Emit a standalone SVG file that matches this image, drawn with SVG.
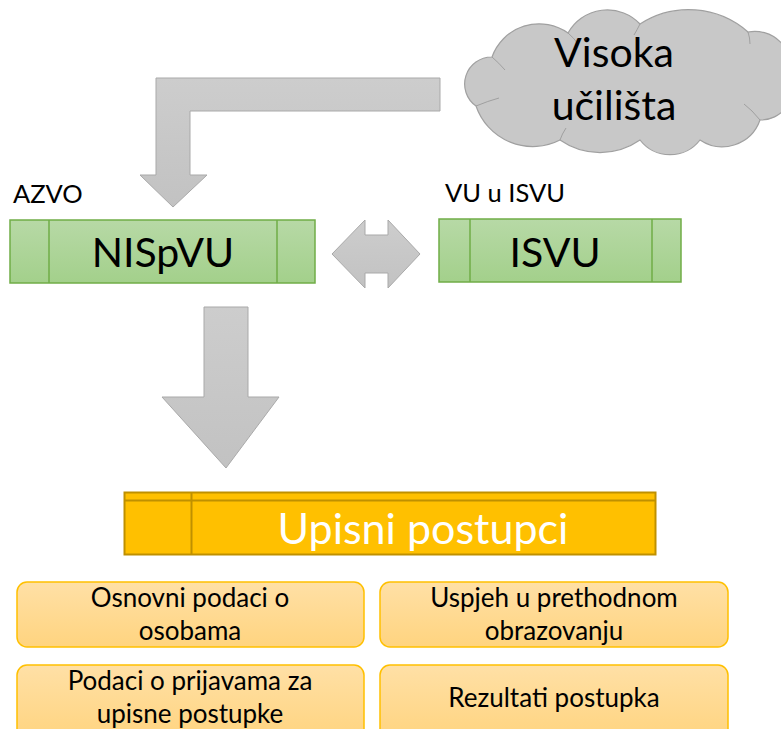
<svg xmlns="http://www.w3.org/2000/svg" width="781" height="729" viewBox="0 0 781 729">
<defs>
<linearGradient id="gGray" x1="0" y1="0" x2="0" y2="1"><stop offset="0" stop-color="#cdcdcd"/><stop offset="1" stop-color="#c2c2c2"/></linearGradient>
<linearGradient id="gGreen" x1="0" y1="0" x2="0" y2="1"><stop offset="0" stop-color="#b7d9a6"/><stop offset="1" stop-color="#a3d08b"/></linearGradient>
<linearGradient id="gOrange" x1="0" y1="0" x2="0" y2="1"><stop offset="0" stop-color="#ffe0a6"/><stop offset="1" stop-color="#ffd47f"/></linearGradient>
</defs>
<style>
.arrow{fill:url(#gGray);stroke:#a9a9a9;stroke-width:1}
.green{fill:url(#gGreen);stroke:#70ad47;stroke-width:1.5}
.gline{stroke:#70ad47;stroke-width:1.5;fill:none}
.item{fill:url(#gOrange);stroke:#ffc000;stroke-width:1.5}
.t{font-family:Lato,"Open Sans","Liberation Sans",sans-serif;fill:#000}
.big{font-size:41px;text-anchor:middle}
.lbl{font-size:25.5px}
.sm{font-size:26px;text-anchor:middle}
</style>
<rect width="781" height="729" fill="#fff"/>
<g id="connectors">
<path class="arrow" d="M440,78 L156,78 L156,175 L140,175 L173,207 L207,175 L190,175 L190,111 L440,111 Z"/>
<path class="arrow" d="M332,254 L365,220 L365,235 L388,235 L388,220 L420,254 L388,288 L388,273 L365,273 L365,288 Z"/>
<path class="arrow" d="M204,307 L248,307 L248,397 L279,397 L226,468 L162,397 L204,397 Z"/>
</g>
<g id="cloud">
<path d="M476,106 A27,27 0 0 1 492,57 A50,50 0 0 1 568,33 A45,45 0 0 1 640,24 A90,90 0 0 1 748,32 A36,36 0 0 1 790,75 A32,32 0 0 1 760,120 A40,40 0 0 1 700,140 A38,38 0 0 1 640,140 A70,70 0 0 1 560,140 A60,60 0 0 1 476,106 Z" fill="#c8c8c8" stroke="#a0a0a0" stroke-width="1.2"/>
<path d="M492,57 Q499,63 505,70 M476,106 Q488,101 499,98 M568,33 Q574,38 578,44 M640,24 Q637,30 634,35 M748,32 Q750,38 750,44 M760,120 Q752,110 744,104 M560,140 Q562,134 566,128" fill="none" stroke="#a0a0a0" stroke-width="1"/>
<text class="t big" x="614" y="67">Visoka</text>
<text class="t big" x="614" y="120">učilišta</text>
</g>
<g id="nispvu">
<text class="t lbl" x="13" y="203">AZVO</text>
<rect class="green" x="10" y="220" width="305" height="63"/>
<path class="gline" d="M49,220 V283 M277,220 V283"/>
<text class="t big" x="163" y="267">NISpVU</text>
</g>
<g id="isvu">
<text class="t lbl" x="445" y="202">VU u ISVU</text>
<rect class="green" x="439" y="219" width="242" height="63"/>
<path class="gline" d="M470,219 V282 M652,219 V282"/>
<text class="t big" x="555" y="267">ISVU</text>
</g>
<g id="upisni">
<rect x="124.5" y="492.5" width="531" height="62" fill="#ffc000" stroke="#bf9000" stroke-width="2"/>
<path d="M124.5,500.5 H655.5 M191.5,492.5 V554.5" stroke="#bf9000" stroke-width="2" fill="none"/>
<text class="t big" x="423" y="544" style="fill:#fff;font-size:43px">Upisni postupci</text>
</g>
<g id="item1">
<rect class="item" x="17" y="582" width="347" height="65" rx="10"/>
<text class="t sm" x="190" y="607">Osnovni podaci o</text>
<text class="t sm" x="190" y="640">osobama</text>
</g>
<g id="item2">
<rect class="item" x="380" y="582" width="348" height="65" rx="10"/>
<text class="t sm" x="554" y="607">Uspjeh u prethodnom</text>
<text class="t sm" x="554" y="640">obrazovanju</text>
</g>
<g id="item3">
<rect class="item" x="17" y="665" width="347" height="75" rx="10"/>
<text class="t sm" x="190" y="690">Podaci o prijavama za</text>
<text class="t sm" x="190" y="723">upisne postupke</text>
</g>
<g id="item4">
<rect class="item" x="380" y="665" width="348" height="75" rx="10"/>
<text class="t sm" x="554" y="707">Rezultati postupka</text>
</g>
</svg>
